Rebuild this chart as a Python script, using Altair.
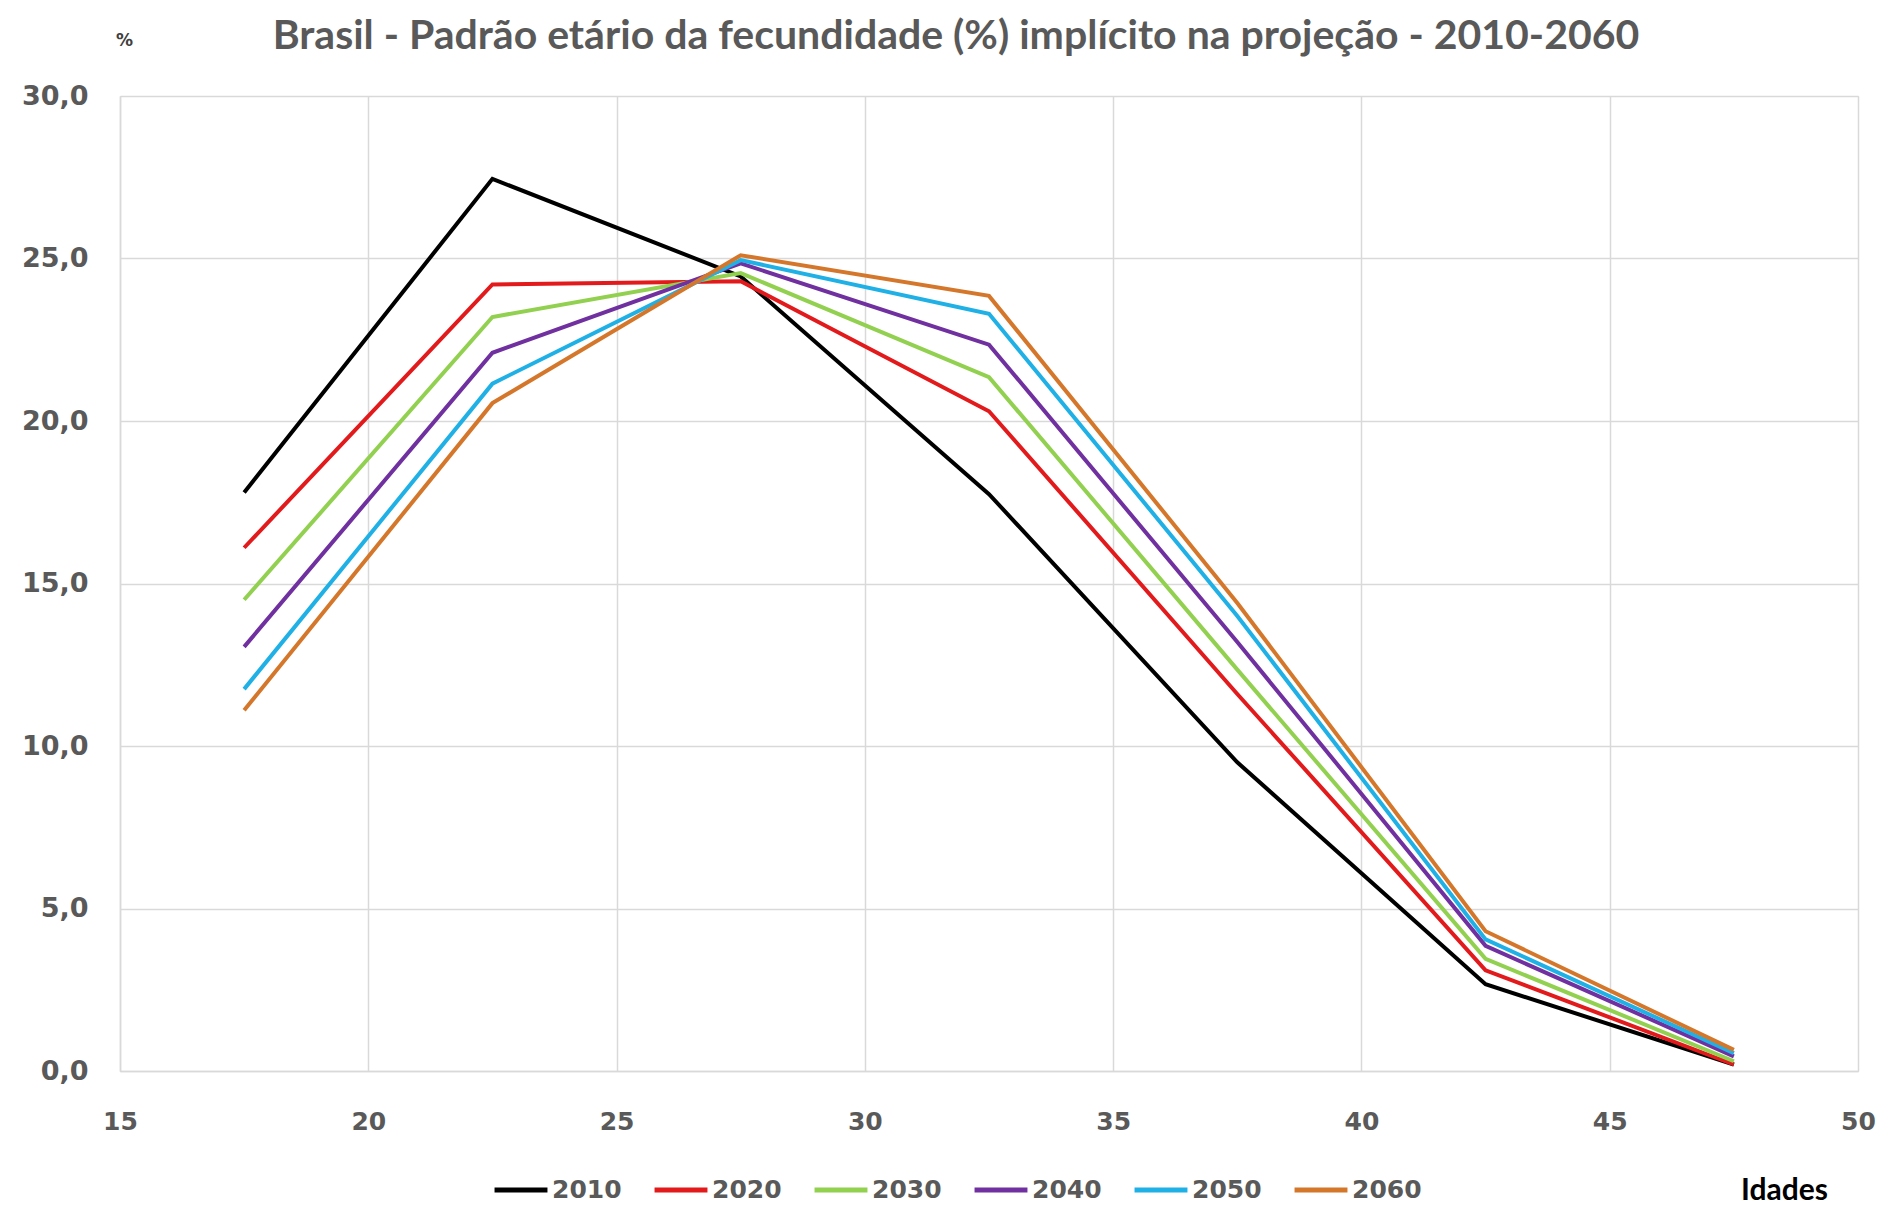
import altair as alt
import pandas as pd

ages = [17.5, 22.5, 27.5, 32.5, 37.5, 42.5, 47.5]
years = ["2010", "2020", "2030", "2040", "2050", "2060"]
v2010 = [17.8, 27.45, 24.45, 17.75, 9.5, 2.67, 0.2]
v2020 = [16.1, 24.2, 24.3, 20.3, 11.6, 3.1, 0.2]
v2030 = [14.5, 23.2, 24.55, 21.35, 12.35, 3.45, 0.3]
v2040 = [13.05, 22.1, 24.85, 22.35, 13.2, 3.85, 0.45]
v2050 = [11.75, 21.15, 24.95, 23.3, 14.0, 4.05, 0.55]
v2060 = [11.1, 20.55, 25.1, 23.85, 14.4, 4.3, 0.65]
colors = ["#000000", "#E31A1C", "#92D050", "#7030A0", "#1FB0E6", "#D5772B"]
x_ticks = [15, 20, 25, 30, 35, 40, 45, 50]
y_ticks = [0, 5, 10, 15, 20, 25, 30]
title_text = "Brasil - Padrão etário da fecundidade (%) implícito na projeção - 2010-2060"

series = [v2010, v2020, v2030, v2040, v2050, v2060]
rows = []
for yr, vals in zip(years, series):
    for a, v in zip(ages, vals):
        rows.append({"Idade": a, "Valor": v, "Ano": yr})
df = pd.DataFrame(rows)

GRID = "#D9D9D9"
LAB = "#595959"

lines = alt.Chart(df).mark_line(strokeWidth=4).encode(
    x=alt.X("Idade:Q",
            scale=alt.Scale(domain=[15, 50], nice=False, zero=False),
            axis=alt.Axis(values=x_ticks, title="Idades", grid=True, gridColor=GRID, gridWidth=1.5,
                          domainColor=GRID, domainWidth=1.5, ticks=False, labelFlush=False,
                          labelFont="DejaVu Sans", labelFontWeight="bold", labelFontSize=25,
                          labelColor=LAB, labelPadding=38,
                          titleFont="Lato", titleFontWeight="bold", titleFontSize=30,
                          titleColor="#000000", titleX=1664, titleY=128,
                          titleAlign="center", titleBaseline="alphabetic")),
    y=alt.Y("Valor:Q",
            scale=alt.Scale(domain=[0, 30], nice=False),
            axis=alt.Axis(values=y_ticks, title="%", grid=True, gridColor=GRID, gridWidth=1.5,
                          domainColor=GRID, domainWidth=1.5, ticks=False, labelFlush=False,
                          labelExpr="replace(format(datum.value, '.1f'), '.', ',')",
                          labelFont="DejaVu Sans", labelFontWeight="bold", labelFontSize=27,
                          labelColor=LAB, labelPadding=32,
                          titleAngle=0, titleX=4, titleY=-56, titleAlign="center",
                          titleBaseline="middle", titleFont="DejaVu Sans", titleFontWeight="bold",
                          titleFontSize=17, titleColor="#404040")),
    color=alt.Color("Ano:N", scale=alt.Scale(domain=years, range=colors),
                    legend=alt.Legend(orient="none", direction="horizontal", legendX=372, legendY=1065,
                                      title=None, symbolType="stroke", symbolSize=2800,
                                      symbolStrokeWidth=5, labelFont="DejaVu Sans", labelFontSize=25,
                                      labelFontWeight="bold",
                                      labelColor=LAB, labelOffset=2, columnPadding=22)),
)

title = alt.Chart(pd.DataFrame({"t": [title_text]})).mark_text(
    font="Lato", fontSize=41, fontWeight="bold", color=LAB, align="center", baseline="alphabetic"
).encode(text="t:N", x=alt.value(836), y=alt.value(-47))

chart = alt.layer(lines, title).properties(
    width=1738,
    height=975,
    autosize=alt.AutoSizeParams(type="none"),
    padding={"left": 112, "top": 88, "right": 19, "bottom": 135},
).configure_view(strokeWidth=0).configure(background="white")

chart.save("out.html", embed_options={"renderer": "svg", "actions": False})
